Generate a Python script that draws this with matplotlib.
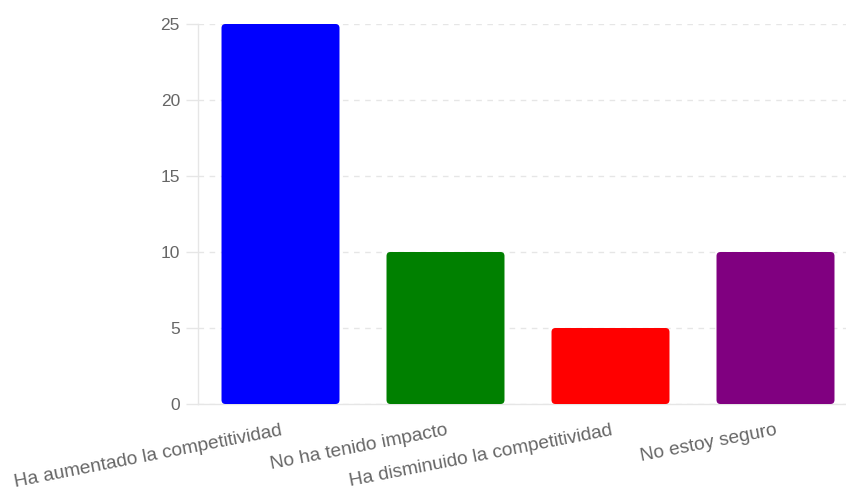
import matplotlib.pyplot as plt
from matplotlib.patches import FancyBboxPatch

categories = ['Ha aumentado la competitividad', 'No ha tenido impacto',
              'Ha disminuido la competitividad', 'No estoy seguro']
values = [25, 10, 5, 10]
colors = ['#0000ff', '#008000', '#ff0000', '#800080']
yticks = [0, 5, 10, 15, 20, 25]

plt.rcParams['font.family'] = ['Liberation Sans', 'DejaVu Sans']

fig = plt.figure(figsize=(8.46, 4.93), dpi=100)
ax = fig.add_axes([198 / 846, 89 / 493, 660 / 846, 380 / 493])

bar_w = 0.715
ax.set_xlim(-0.5, len(categories) - 0.5)
ax.set_ylim(0, 25)

# rounded bars: data units per pixel differ on x and y
x_per_px = 1 / 165
y_per_px = 25 / 380
aspect = y_per_px / x_per_px
rad = 4 * x_per_px
for i, (v, c) in enumerate(zip(values, colors)):
    p = FancyBboxPatch((i - bar_w / 2, 0), bar_w, v,
                       boxstyle='round,pad=0,rounding_size=%f' % rad,
                       mutation_aspect=aspect, fc=c, ec='none', zorder=3)
    ax.add_patch(p)

ax.set_yticks(yticks)
ax.set_xticks(range(len(categories)))
ax.set_xticklabels(categories, rotation=11, ha='right', va='top',
                   rotation_mode='anchor')
ax.tick_params(axis='x', length=0, pad=13, labelsize=13.8, labelcolor='#666666')
ax.tick_params(axis='y', length=9, width=1, color='#e6e6e6', pad=4,
               labelsize=12.5, labelcolor='#666666')

ax.grid(axis='y', color='#e6e6e6', linestyle=(0, (4, 4)), linewidth=1, zorder=0)
for s in ['top', 'right']:
    ax.spines[s].set_visible(False)
for s in ['left', 'bottom']:
    ax.spines[s].set_color('#e6e6e6')
    ax.spines[s].set_linewidth(1)

fig.savefig('out.png', dpi=100)
